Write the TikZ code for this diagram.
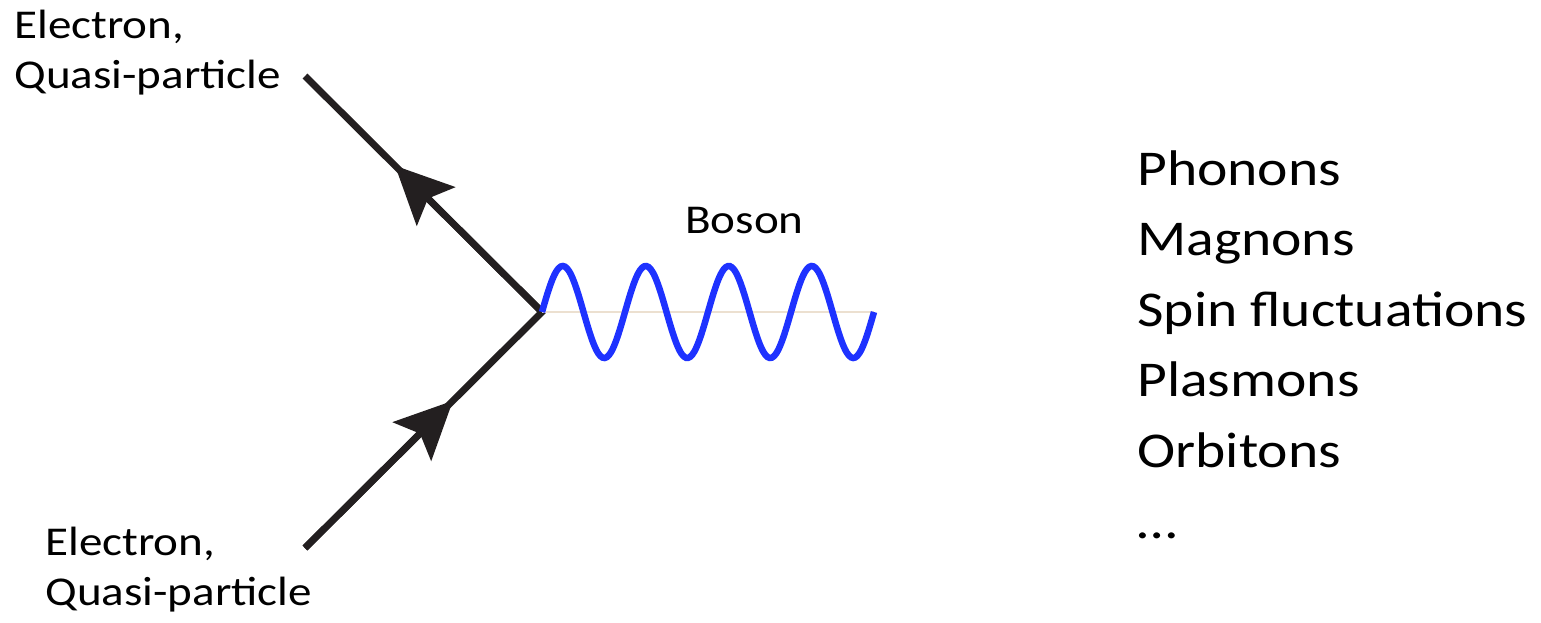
\documentclass[tikz,border=0pt]{standalone}
\usepackage{fontspec}
\setmainfont{Carlito}[FakeStretch=1.15]
\usepackage{tikz}
\usetikzlibrary{arrows.meta, calc}
\definecolor{Tinta}    {RGB}{35, 31, 32}
\definecolor{AzulBoson}{RGB}{30, 50, 255}
\definecolor{Crema}    {RGB}{236,224,208}

\begin{document}
\begin{tikzpicture}[x=0.02cm, y=-0.02cm,
    lepton/.style={draw=Tinta, line width=3.9pt, line join=miter},
    ferm/.style={lepton, -{Stealth[length=1.15cm, width=1.08cm, inset=0.22cm]}, fill=Tinta},
    boson/.style={draw=AzulBoson, line width=3.7pt},
    lbl/.style={font=\fontsize{23.3}{27.9}\selectfont, align=left, inner sep=0pt, anchor=base west},
    modo/.style={font=\fontsize{28.5}{40}\selectfont, inner sep=0pt, anchor=base west}]
  \useasboundingbox (0,0) rectangle (1541,622);
  \coordinate (vtx)  at (542,312);
  \coordinate (eout) at (305,76);
  \coordinate (ein)  at (305,548);
  \coordinate (wend) at ($(vtx)+(332,0)$);
  % electron lines
  \draw[lepton] (eout) -- (vtx) -- (ein);
  \draw[ferm] (vtx) -- ($(vtx)!0.62!(eout)$);
  \draw[ferm] (ein) -- ($(ein)!0.624!(vtx)$);
  % boson
  \draw[Crema, line width=0.6pt] (vtx) -- (wend);
  \draw[boson, shift={(vtx)}] plot[domain=0:332, samples=160, smooth] (\x, {-46*sin(4.3373*\x)});
  \node[lbl] (etop) at (14,88) {Electron,\\Quasi-particle};
  \node[lbl] (ebot) at (45,605) {Electron,\\Quasi-particle};
  \node[lbl] (bos) at (685,233) {Boson};
  \foreach \i/\nombre in {0/Phonons,1/Magnons,2/Spin fluctuations,3/Plasmons,4/Orbitons,5/\dots}{
    \node[modo] (modo\i) at (1137, 185+\i*70.6) {\nombre};
  }
\end{tikzpicture}
\end{document}
